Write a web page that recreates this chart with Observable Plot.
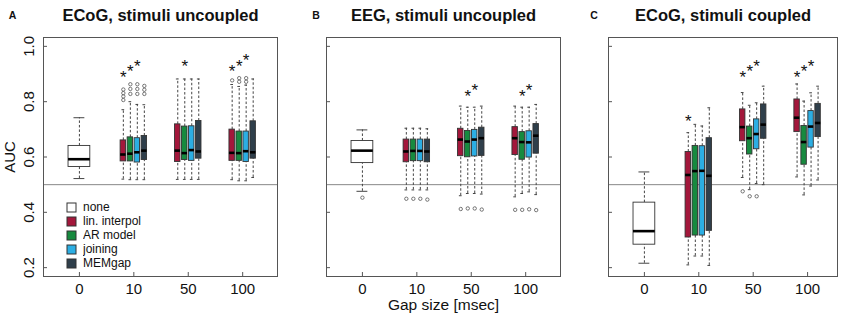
<!DOCTYPE html>
<html><head><meta charset="utf-8">
<script src="https://cdn.jsdelivr.net/npm/d3@7"></script>
<script src="https://cdn.jsdelivr.net/npm/@observablehq/plot@0.6"></script>
<style>
body{margin:0;background:#fff;}
#chart{position:relative;width:843px;height:315px;background:#fff;font-family:"Liberation Sans",Arial,sans-serif;}
#chart > svg{position:absolute;top:0;}
#legend{position:absolute;left:67px;top:200px;}
.lg-swatches{font-family:"Liberation Sans",Arial,sans-serif !important;font-size:12px !important;margin:0 !important;color:#111;}
.lg-swatch{height:14px;padding-bottom:0 !important;}
.lg-swatch svg{margin-right:7px !important;}
.lg-swatch svg rect{stroke:#333;stroke-width:1;}
</style></head><body><div id="chart"><div id="legend"></div></div>
<script>
// ---------- categories ----------
const gaps = ["0", "10", "50", "100"];
const methods = ["none", "lin. interpol", "AR model", "joining", "MEMgap"];
const methodColors = ["#ffffff", "#a3173b", "#178a3f", "#2caee3", "#2f3f4b"];
const yTicks = [0.2, 0.4, 0.6, 0.8, 1.0];
const panelLetters = ["A", "B", "C"];
const panelTitles = ["ECoG, stimuli uncoupled", "EEG, stimuli uncoupled", "ECoG, stimuli coupled"];

// ---------- box statistics: [lower whisker, Q1, median, Q3, upper whisker] ----------
// "none" is gap 0; other methods list gaps 10, 50, 100
const A_none = [0.522, 0.564, 0.592, 0.640, 0.742];
const A_lin  = [[0.520, 0.584, 0.609, 0.660, 0.771], [0.519, 0.582, 0.623, 0.718, 0.882], [0.518, 0.586, 0.615, 0.699, 0.862]];
const A_ar   = [[0.518, 0.584, 0.612, 0.671, 0.800], [0.519, 0.589, 0.614, 0.710, 0.882], [0.514, 0.586, 0.614, 0.692, 0.855]];
const A_join = [[0.518, 0.580, 0.617, 0.668, 0.790], [0.519, 0.586, 0.625, 0.711, 0.882], [0.514, 0.582, 0.621, 0.692, 0.860]];
const A_mem  = [[0.518, 0.589, 0.623, 0.676, 0.789], [0.519, 0.594, 0.620, 0.730, 0.882], [0.526, 0.594, 0.617, 0.729, 0.882]];

const B_none = [0.476, 0.578, 0.623, 0.658, 0.698];
const B_lin  = [[0.481, 0.581, 0.620, 0.663, 0.704], [0.460, 0.603, 0.663, 0.702, 0.784], [0.456, 0.607, 0.668, 0.708, 0.784]];
const B_ar   = [[0.481, 0.585, 0.622, 0.663, 0.704], [0.468, 0.599, 0.656, 0.694, 0.780], [0.468, 0.590, 0.654, 0.690, 0.780]];
const B_join = [[0.481, 0.585, 0.622, 0.663, 0.704], [0.468, 0.602, 0.663, 0.698, 0.780], [0.474, 0.598, 0.653, 0.693, 0.780]];
const B_mem  = [[0.481, 0.581, 0.620, 0.663, 0.702], [0.466, 0.604, 0.668, 0.706, 0.784], [0.464, 0.612, 0.677, 0.719, 0.790]];

const C_none = [0.216, 0.283, 0.332, 0.435, 0.546];
const C_lin  = [[0.210, 0.309, 0.535, 0.618, 0.688], [0.526, 0.657, 0.708, 0.772, 0.833], [0.528, 0.690, 0.742, 0.808, 0.864]];
const C_ar   = [[0.242, 0.316, 0.549, 0.640, 0.718], [0.482, 0.609, 0.668, 0.710, 0.787], [0.463, 0.572, 0.654, 0.712, 0.802]];
const C_join = [[0.242, 0.316, 0.550, 0.639, 0.712], [0.504, 0.628, 0.683, 0.736, 0.796], [0.495, 0.634, 0.710, 0.766, 0.832]];
const C_mem  = [[0.208, 0.333, 0.532, 0.668, 0.778], [0.500, 0.666, 0.717, 0.790, 0.856], [0.517, 0.672, 0.723, 0.792, 0.856]];

// ---------- outliers: [gap index, method index, value] ----------
const A_outliers = [
  [1,1,0.806],[1,1,0.819],[1,1,0.831],[1,1,0.844],
  [1,2,0.828],[1,2,0.846],[1,2,0.863],
  [1,3,0.828],[1,3,0.846],[1,3,0.863],
  [1,4,0.828],[1,4,0.843],[1,4,0.857],
  [3,1,0.877],[3,2,0.872],[3,2,0.885],[3,3,0.872],[3,3,0.885]
];
const B_outliers = [
  [0,0,0.453],
  [1,1,0.449],[1,2,0.449],[1,3,0.449],[1,4,0.446],
  [2,1,0.412],[2,2,0.414],[2,3,0.414],[2,4,0.410],
  [3,1,0.409],[3,2,0.409],[3,3,0.411],[3,4,0.408]
];
const C_outliers = [[2,1,0.476],[2,2,0.458],[2,3,0.458]];

// ---------- significance stars: [gap index, method index, value] ----------
const A_stars = [[1,1,0.906],[1,2,0.927],[1,3,0.946],[2,2,0.946],[3,1,0.927],[3,2,0.946],[3,3,0.967]];
const B_stars = [[2,2,0.838],[2,3,0.858],[3,2,0.838],[3,3,0.858]];
const C_stars = [[1,1,0.748],[2,1,0.906],[2,2,0.927],[2,3,0.946],[3,1,0.906],[3,2,0.927],[3,3,0.946]];

// ---------- layout ----------
const offsets = [0, -0.193, -0.064, 0.064, 0.193];
const panelLeft = [0, 300, 583];
const panelWidth = [300, 283, 260];
const marginL = [43, 26, 25];
const marginR = [23, 23, 6];
const xDomains = [[-0.66, 3.64], [-0.66, 3.64], [-0.66, 3.55]];
const letterDx = [-31, -10.5, -14.5];
const font = "'Liberation Sans', Arial, Helvetica, sans-serif";

function buildRows(none, lin, ar, join, mem) {
  const rows = [{g: 0, m: 0, s: none}];
  [lin, ar, join, mem].forEach((arr, k) => arr.forEach((s, j) => rows.push({g: j + 1, m: k + 1, s})));
  return rows.map(({g, m, s}) => {
    const x = g + offsets[m], h = m === 0 ? 0.2 : 0.05;
    return {g, m, method: methods[m], x, x1: x - h, x2: x + h, c1: x - h / 2, c2: x + h / 2,
            lo: s[0], q1: s[1], med: s[2], q3: s[3], hi: s[4]};
  });
}
const pos = ([g, m, v]) => ({x: g + offsets[m], v});

function panel(i, rows, outliers, stars) {
  const O = outliers.map(pos), S = stars.map(pos);
  const svg = Plot.plot({
    width: panelWidth[i], height: 315,
    marginLeft: marginL[i], marginRight: marginR[i], marginTop: 37, marginBottom: 39,
    x: {domain: xDomains[i]},
    y: {domain: [0.168, 1.032]},
    color: {domain: methods, range: methodColors},
    style: {fontFamily: font, background: "transparent", overflow: "visible", color: "#111"},
    marks: [
      Plot.ruleY([0.5], {stroke: "#888", strokeWidth: 1}),
      Plot.ruleX(rows, {x: "x", y1: "q3", y2: "hi", stroke: "#444", strokeDasharray: "2.5,2"}),
      Plot.ruleX(rows, {x: "x", y1: "lo", y2: "q1", stroke: "#444", strokeDasharray: "2.5,2"}),
      Plot.ruleY(rows, {y: "hi", x1: "c1", x2: "c2", stroke: "#444"}),
      Plot.ruleY(rows, {y: "lo", x1: "c1", x2: "c2", stroke: "#444"}),
      Plot.rect(rows, {x1: "x1", x2: "x2", y1: "q1", y2: "q3", fill: "method", stroke: "#333", strokeWidth: 0.9}),
      Plot.ruleY(rows, {y: "med", x1: "x1", x2: "x2", stroke: "#000", strokeWidth: 2.6}),
      Plot.dot(O, {x: "x", y: "v", r: 1.7, stroke: "#555", strokeWidth: 0.8, fill: "none"}),
      Plot.text(S, {x: "x", y: "v", text: () => "*", fontSize: 17, dy: 5, fill: "#111"}),
      Plot.frame({stroke: "#555", strokeWidth: 1}),
      Plot.axisY({ticks: yTicks, tickSize: -4, tickPadding: 14, tickRotate: -90, fontSize: 15,
                  tickFormat: i === 0 ? d3.format(".1f") : () => "", label: null, stroke: "#555"}),
      Plot.axisX({ticks: [0, 1, 2, 3], tickSize: -4, tickPadding: 10.5, fontSize: 15,
                  tickFormat: d => gaps[d], label: null, stroke: "#555"}),
      Plot.text([panelTitles[i]], {frameAnchor: "top", dy: -27.8, fontSize: 16.5, fontWeight: "bold"}),
      Plot.text([panelLetters[i]], {frameAnchor: "top-left", textAnchor: "middle", dx: letterDx[i], dy: -26.3, fontSize: 10.5, fontWeight: "bold"}),
      ...(i === 0 ? [Plot.text(["AUC"], {frameAnchor: "left", textAnchor: "middle", rotate: -90, lineAnchor: "bottom", dx: -29, fontSize: 15})] : []),
      ...(i === 1 ? [Plot.text(["Gap size [msec]"], {frameAnchor: "bottom", lineAnchor: "bottom", dy: 33.5, fontSize: 15.5})] : [])
    ]
  });
  svg.style.left = panelLeft[i] + "px";
  return svg;
}

const chart = document.getElementById("chart");
chart.appendChild(panel(0, buildRows(A_none, A_lin, A_ar, A_join, A_mem), A_outliers, A_stars));
chart.appendChild(panel(1, buildRows(B_none, B_lin, B_ar, B_join, B_mem), B_outliers, B_stars));
chart.appendChild(panel(2, buildRows(C_none, C_lin, C_ar, C_join, C_mem), C_outliers, C_stars));

document.getElementById("legend").appendChild(
  Plot.legend({color: {domain: methods, range: methodColors}, legend: "swatches", columns: 1, swatchSize: 9, className: "lg"})
);
</script></body></html>
